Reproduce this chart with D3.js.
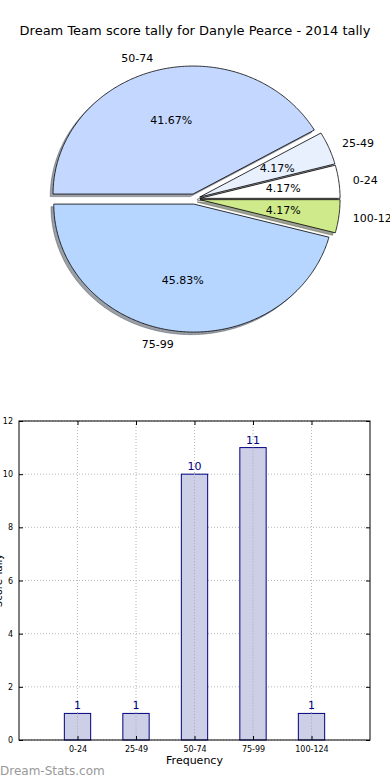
<!DOCTYPE html>
<html><head><meta charset="utf-8">
<script src="https://cdn.jsdelivr.net/npm/d3@7"></script>
<style>body{margin:0;background:#fff;}svg{display:block;font-family:"DejaVu Sans",sans-serif;}</style>
</head><body>
<svg id="c" width="390" height="780"></svg>
<script>
const categories = ["0-24","25-49","50-74","75-99","100-124"];
const counts = [1,1,10,11,1];
const sliceColors = ["#ffffff","#e8f0fe","#c4d8ff","#b6d6ff","#cfea8a"];
const yTicks = [0,2,4,6,8,10,12];
const titleText = "Dream Team score tally for Danyle Pearce - 2014 tally";

const svg = d3.select("#c");
svg.append("text").attr("x",195).attr("y",35).attr("text-anchor","middle")
  .attr("font-size",13).attr("fill","#000").text(titleText);

// ---- Pie ----
const cx=194.5, cy=199, rx=140, ry=128, explode=0.04;
const px = d3.scaleLinear().domain([-1,1]).range([cx-rx,cx+rx]);
const py = d3.scaleLinear().domain([-1,1]).range([cy+ry,cy-ry]);
const total = d3.sum(counts);
const pie = d3.pie().sort(null).value(d=>d).startAngle(0).endAngle(2*Math.PI);
const arcs = pie(counts); // angles interpreted counter-clockwise from east
const line = d3.line().x(d=>px(d[0])).y(d=>py(d[1]));
function wedgePts(a0,a1,ox,oy){
  const pts=[[ox,oy]];
  const n=Math.max(4,Math.ceil((a1-a0)/0.01));
  for(let i=0;i<=n;i++){const a=a0+(a1-a0)*i/n;pts.push([ox+Math.cos(a),oy+Math.sin(a)]);}
  pts.push([ox,oy]);
  return pts;
}
const pieG = svg.append("g");
function shade(c){const r=d3.rgb(c);return d3.rgb(r.r*0.3,r.g*0.3,r.b*0.3).toString();}
// shadows
arcs.forEach((a,i)=>{
  const mid=(a.startAngle+a.endAngle)/2;
  const ox=explode*Math.cos(mid), oy=explode*Math.sin(mid);
  pieG.append("path").attr("d",line(wedgePts(a.startAngle,a.endAngle,ox-0.02,oy-0.02)))
    .attr("fill",shade(sliceColors[i])).attr("fill-opacity",0.5)
    .attr("stroke",shade(sliceColors[i])).attr("stroke-opacity",0.5).attr("stroke-width",0.8);
});
arcs.forEach((a,i)=>{
  const mid=(a.startAngle+a.endAngle)/2;
  const ox=explode*Math.cos(mid), oy=explode*Math.sin(mid);
  pieG.append("path").attr("d",line(wedgePts(a.startAngle,a.endAngle,ox,oy)))
    .attr("fill",sliceColors[i]).attr("stroke","#000").attr("stroke-width",0.8).attr("stroke-linejoin","round");
  const lx=(1.1+explode)*Math.cos(mid), ly=(1.1+explode)*Math.sin(mid);
  pieG.append("text").attr("x",px(lx)).attr("y",py(ly)).attr("dy","0.35em")
    .attr("text-anchor",lx>0?"start":"end").attr("font-size",11).attr("fill","#000")
    .text(categories[i]);
  const tx=(0.6+explode)*Math.cos(mid), ty=(0.6+explode)*Math.sin(mid);
  pieG.append("text").attr("x",px(tx)).attr("y",py(ty)).attr("dy","0.35em")
    .attr("text-anchor","middle").attr("font-size",11).attr("fill","#000")
    .text((counts[i]/total*100).toFixed(2)+"%");
});

// ---- Bar chart ----
const L=19,R=370,T=421,B=740;
const x = d3.scaleLinear().domain([-1,5]).range([L,R]);
const y = d3.scaleLinear().domain([0,12]).range([B,T]);
const g = svg.append("g");
// grid
yTicks.forEach(t=>{
  g.append("line").attr("x1",L).attr("x2",R).attr("y1",y(t)).attr("y2",y(t))
   .attr("stroke","#b8b8b8").attr("stroke-width",1).attr("stroke-dasharray","1,2");
});
categories.forEach((c,i)=>{
  g.append("line").attr("x1",x(i)).attr("x2",x(i)).attr("y1",T).attr("y2",B)
   .attr("stroke","#b8b8b8").attr("stroke-width",1).attr("stroke-dasharray","1,2");
});
const bw = x(0.45)-x(0);
g.selectAll("rect.bar").data(counts).enter().append("rect").attr("class","bar")
  .attr("x",(d,i)=>x(i)-bw/2).attr("width",bw)
  .attr("y",d=>y(d)).attr("height",d=>y(0)-y(d))
  .attr("fill","#cccfe6").attr("stroke","#000080").attr("stroke-width",1);
// grid over bars (matplotlib draws grid above)
categories.forEach((c,i)=>{
  g.append("line").attr("x1",x(i)).attr("x2",x(i)).attr("y1",y(counts[i])).attr("y2",B)
   .attr("stroke","#a8a8b8").attr("stroke-width",1).attr("stroke-dasharray","1,2");
});
g.selectAll("text.val").data(counts).enter().append("text").attr("class","val")
  .attr("x",(d,i)=>x(i)).attr("y",d=>y(d)-4).attr("text-anchor","middle")
  .attr("font-size",11).attr("fill","#000080").text(d=>d);
// frame
g.append("rect").attr("x",L).attr("y",T).attr("width",R-L).attr("height",B-T)
  .attr("fill","none").attr("stroke","#000").attr("stroke-width",1);
// axes with ticks
const yAx = g.append("g").attr("transform",`translate(${L},0)`)
  .call(d3.axisLeft(y).tickValues(yTicks).tickSize(-4).tickPadding(6).tickFormat(d3.format("d")));
const yAxR = g.append("g").attr("transform",`translate(${R},0)`)
  .call(d3.axisRight(y).tickValues(yTicks).tickSize(-4).tickFormat(""));
const xAx = g.append("g").attr("transform",`translate(0,${B})`)
  .call(d3.axisBottom(x).tickValues(d3.range(categories.length)).tickSize(-4).tickPadding(6)
  .tickFormat(i=>categories[i]));
const xAxT = g.append("g").attr("transform",`translate(0,${T})`)
  .call(d3.axisTop(x).tickValues(d3.range(categories.length)).tickSize(-4).tickFormat(""));
[yAx,yAxR,xAx,xAxT].forEach(a=>{a.select(".domain").remove();
  a.selectAll("text").attr("font-size",8).attr("font-family","DejaVu Sans").attr("fill","#000");
  a.selectAll("line").attr("stroke","#000");});
svg.append("text").attr("x",(L+R)/2).attr("y",764).attr("text-anchor","middle")
  .attr("font-size",11).attr("fill","#000").text("Frequency");
svg.append("text").attr("transform",`translate(2,${(T+B)/2}) rotate(-90)`)
  .attr("text-anchor","middle").attr("font-size",10).attr("fill","#000").text("Score Tally");
svg.append("text").attr("x",0).attr("y",775).attr("font-size",12)
  .attr("fill","#999999").text("Dream-Stats.com");
</script>
</body></html>
